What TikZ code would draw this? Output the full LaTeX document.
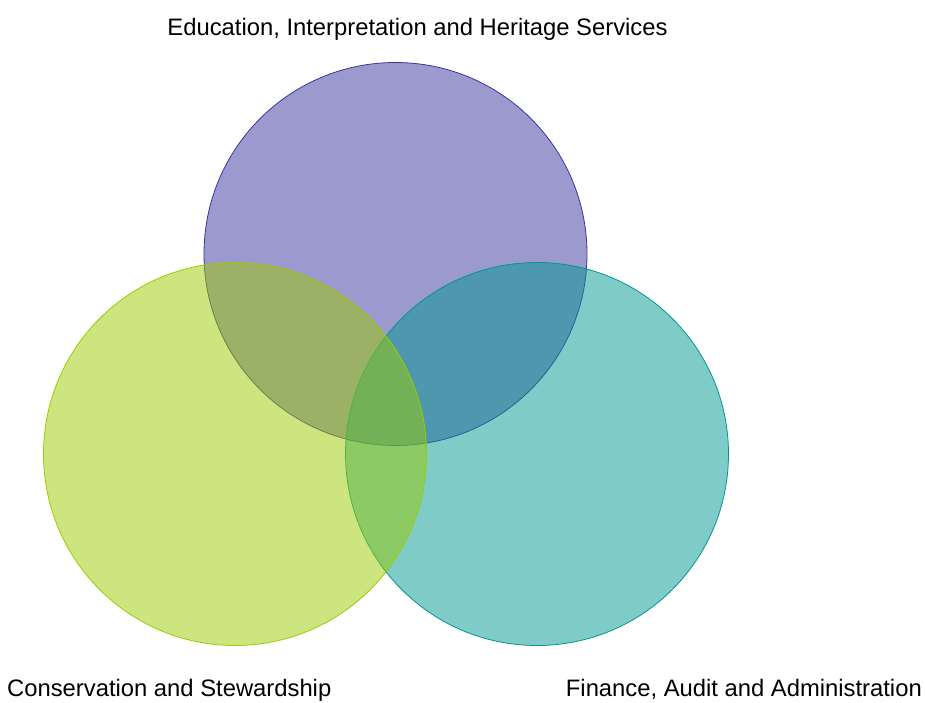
\documentclass[tikz,border=0pt]{standalone}
\usepackage{fontspec}
\setmainfont{Liberation Sans}
\definecolor{cpurple}{HTML}{39339D}
\definecolor{cgreen}{HTML}{9BCB00}
\definecolor{cteal}{HTML}{009791}
\begin{document}
\begin{tikzpicture}[x=1pt,y=-1pt,
  venn/.style={circle,minimum size=383pt,inner sep=0pt,line width=0.8pt,fill opacity=0.5},
  lab/.style={inner sep=0pt,text=black,font=\fontsize{23.8}{28}\selectfont}]
\useasboundingbox (0,0) rectangle (925,702);
\node[venn,draw=cpurple,fill=cpurple] (edu) at (395.5,254) {};
\node[venn,draw=cteal,fill=cteal] (fin) at (537,454) {};
\node[venn,draw=cgreen,fill=cgreen] (con) at (235,454) {};
\node[lab,anchor=base] (tedu) at (417.5,35) {Education, Interpretation and Heritage Services};
\node[lab,anchor=base west] (tcon) at (7,696.5) {Conservation and Stewardship};
\node[lab,anchor=base east] (tfin) at (922,696.5) {Finance, Audit and Administration};
\end{tikzpicture}
\end{document}
